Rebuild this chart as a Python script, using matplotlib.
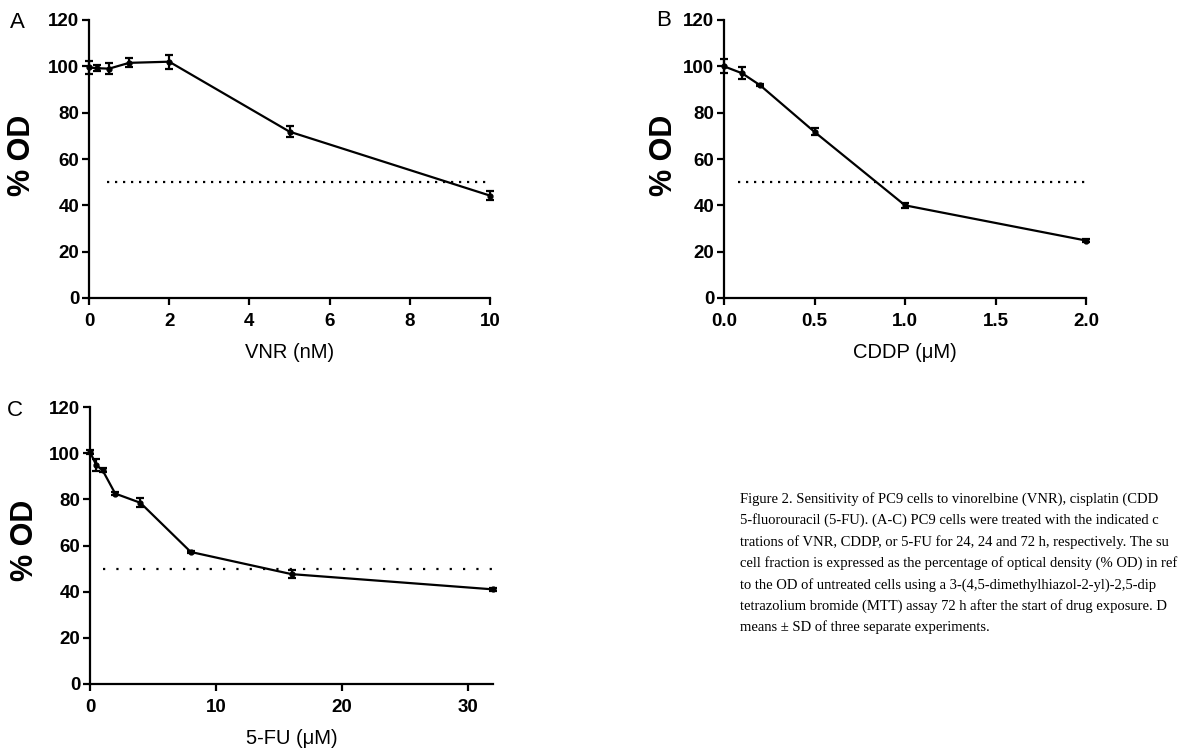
import matplotlib
matplotlib.use("Agg")
import matplotlib.pyplot as plt

plt.rcParams['font.family'] = ['Liberation Sans', 'DejaVu Sans']

# --- données ---
vnr_dose = [0, 0.2, 0.5, 1, 2, 5, 10]
vnr_od = [99.5, 99.2, 99.0, 101.5, 102.0, 71.8, 44.2]
vnr_sd = [3.0, 1.2, 2.5, 2.0, 3.0, 2.5, 2.0]

cddp_dose = [0, 0.1, 0.2, 0.5, 1.0, 2.0]
cddp_od = [100.0, 97.0, 91.8, 71.7, 40.0, 24.8]
cddp_sd = [3.0, 2.5, 0.5, 1.5, 1.2, 0.5]

fu_dose = [0, 0.5, 1, 2, 4, 8, 16, 32]
fu_od = [100.5, 94.8, 92.6, 82.5, 78.5, 57.2, 47.6, 41.0]
fu_sd = [1.0, 2.5, 0.8, 0.5, 2.0, 0.5, 1.6, 0.5]

ic50 = 50

# légende telle qu'elle apparaît (coupée au bord droit de l'image)
caption = [
    "Figure 2. Sensitivity of PC9 cells to vinorelbine (VNR), cisplatin (CDD",
    "5-fluorouracil (5-FU). (A-C) PC9 cells were treated with the indicated c",
    "trations of VNR, CDDP, or 5-FU for 24, 24 and 72 h, respectively. The su",
    "cell fraction is expressed as the percentage of optical density (% OD) in ref",
    "to the OD of untreated cells using a 3-(4,5-dimethylhiazol-2-yl)-2,5-dip",
    "tetrazolium bromide (MTT) assay 72 h after the start of drug exposure. D",
    "means \u00b1 SD of three separate experiments.",
]

W, H = 1181, 751
fig = plt.figure(figsize=(W / 100, H / 100), dpi=100)


def box(left, top, right, bottom):
    return [left / W, 1 - bottom / H, (right - left) / W, (bottom - top) / H]


def panneau(rect, x, y, err, xlim, xticks, xticklabels, xlabel, lettre, ligne_x, lettre_pos,
            ylab_pos, xlab_y, style_ligne=(0, (1, 2.6))):
    ax = fig.add_axes(box(*rect))
    ax.plot(ligne_x, [ic50, ic50], color='black', linestyle=style_ligne, linewidth=1.6)
    ax.errorbar(x, y, yerr=err, color='black', linewidth=1.6, marker='o', markersize=3.5,
                capsize=2.6, capthick=1.6, elinewidth=1.6, clip_on=False, zorder=3)
    ax.set_xlim(*xlim)
    ax.set_ylim(0, 120)
    ax.set_yticks([0, 20, 40, 60, 80, 100, 120])
    ax.set_xticks(xticks)
    ax.set_xticklabels(xticklabels)
    for s in ['top', 'right']:
        ax.spines[s].set_visible(False)
    for s in ['left', 'bottom']:
        ax.spines[s].set_linewidth(1.6)
    ax.tick_params(direction='out', length=5, width=1.6, labelsize=13.5)
    ax.tick_params(axis='x', pad=6)
    ax.tick_params(axis='y', pad=2)
    for lab in ax.get_xticklabels() + ax.get_yticklabels():
        lab.set_fontweight('bold')
    fig.text(lettre_pos[0] / W, 1 - lettre_pos[1] / H, lettre, fontsize=16, ha='center', va='center')
    fig.text(ylab_pos[0] / W, 1 - ylab_pos[1] / H, '% OD', fontsize=22, fontweight='bold',
             rotation=90, ha='center', va='center')
    fig.text((rect[0] + rect[2]) / 2 / W, 1 - xlab_y / H, xlabel, fontsize=14.5, ha='center', va='center')
    return ax


panneau((89, 20, 490, 298), vnr_dose, vnr_od, vnr_sd, (0, 10), [0, 2, 4, 6, 8, 10],
        ['0', '2', '4', '6', '8', '10'], 'VNR (nM)', 'A', [0.45, 10], (17, 23), (22, 155), 353)

panneau((724, 20, 1086, 298), cddp_dose, cddp_od, cddp_sd, (0, 2), [0, 0.5, 1.0, 1.5, 2.0],
        ['0.0', '0.5', '1.0', '1.5', '2.0'], 'CDDP (\u03bcM)', 'B', [0.08, 2.0], (664, 20), (664, 155), 353)

panneau((90, 407, 493, 684), fu_dose, fu_od, fu_sd, (0, 32), [0, 10, 20, 30],
        ['0', '10', '20', '30'], '5-FU (\u03bcM)', 'C', [1, 32], (15, 410), (25, 540), 738,
        style_ligne=(0, (1, 5)))

y0 = 499
for i, ligne in enumerate(caption):
    fig.text(740 / W, 1 - (y0 + 21.4 * i) / H, ligne, family='Liberation Serif', fontsize=10.5,
             ha='left', va='center')

fig.savefig('out.png', dpi=100)
